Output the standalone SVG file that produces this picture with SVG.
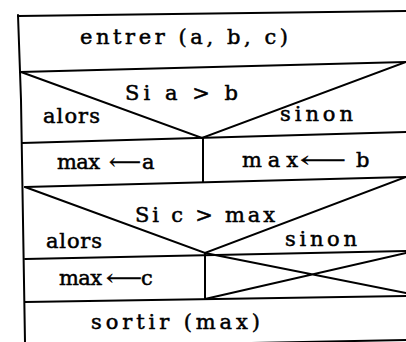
<svg xmlns="http://www.w3.org/2000/svg" width="406" height="342" viewBox="0 0 406 342">
<style>
.l{stroke:#000;stroke-width:2;fill:none;stroke-linecap:round}
.t{font-family:"DejaVu Serif","Liberation Serif",serif;font-size:21px;fill:#000;stroke:#000;stroke-width:0.5}
</style>
<rect width="406" height="342" fill="#fff"/>
<g id="frame">
<path class="l" d="M18,15 L21,100 L25,342" stroke-width="2.5"/>
<path class="l" d="M18,16 L406,11"/>
<path class="l" d="M20,72 L406,62"/>
<path class="l" d="M22,143 L406,132"/>
<path class="l" d="M25,187 L406,177"/>
<path class="l" d="M25,259 L406,251"/>
<path class="l" d="M25,302 L406,296"/>
<path class="l" d="M200,344 L406,340"/>
</g>
<g id="input">
<text class="t" x="80" y="44" textLength="208" lengthAdjust="spacing">entrer (a, b, c)</text>
</g>
<g id="cond1">
<path class="l" d="M21,72 L202,138 L406,62"/>
<text class="t" x="125" y="100" textLength="113" lengthAdjust="spacing">Si a &gt; b</text>
<text class="t" x="43" y="123" textLength="57" lengthAdjust="spacing">alors</text>
<text class="t" x="280" y="121" textLength="73" lengthAdjust="spacing">sinon</text>
</g>
<g id="assignA">
<path class="l" d="M203,138 L203,182"/>
<text class="t" x="57" y="169" textLength="43" lengthAdjust="spacing">max</text>
<text class="t" x="109" y="169" textLength="32" lengthAdjust="spacingAndGlyphs">⟵</text>
<text class="t" x="142" y="169">a</text>
</g>
<g id="assignB">
<text class="t" x="242" y="167" textLength="56" lengthAdjust="spacing">max</text>
<text class="t" x="300" y="167" textLength="46" lengthAdjust="spacingAndGlyphs">⟵</text>
<text class="t" x="356" y="167">b</text>
</g>
<g id="cond2">
<path class="l" d="M25,187 L205,253 L406,177"/>
<text class="t" x="135" y="222" textLength="140" lengthAdjust="spacing">Si c &gt; max</text>
<text class="t" x="46" y="248" textLength="56" lengthAdjust="spacing">alors</text>
<text class="t" x="285" y="246" textLength="72" lengthAdjust="spacing">sinon</text>
</g>
<g id="assignC">
<path class="l" d="M205,253 L205,299"/>
<text class="t" x="59" y="285" textLength="43" lengthAdjust="spacing">max</text>
<text class="t" x="106" y="285" textLength="36" lengthAdjust="spacingAndGlyphs">⟵</text>
<text class="t" x="141" y="285">c</text>
</g>
<g id="empty">
<path class="l" d="M205,253 L406,293 M205,299 L406,253"/>
</g>
<g id="output">
<text class="t" x="91" y="329" textLength="169" lengthAdjust="spacing">sortir  (max)</text>
</g>
</svg>
